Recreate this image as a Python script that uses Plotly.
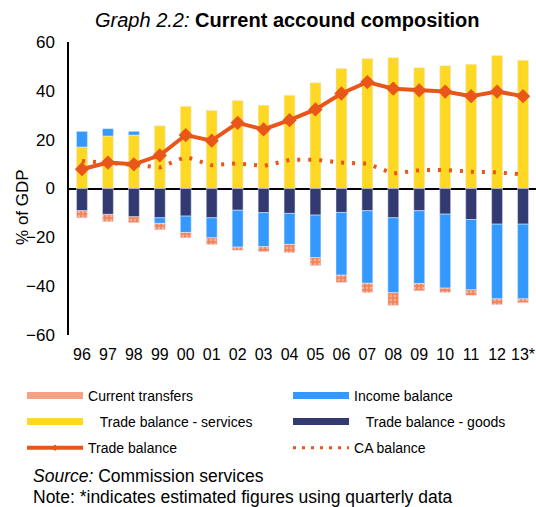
import plotly.graph_objects as go

years = ["96", "97", "98", "99", "00", "01", "02", "03", "04", "05",
         "06", "07", "08", "09", "10", "11", "12", "13*"]

services = [17.0, 21.5, 21.9, 25.7, 33.7, 32.0, 36.0, 34.1, 38.2, 43.3,
            49.1, 53.2, 53.6, 49.5, 50.3, 50.9, 54.5, 52.5]
goods = [-9.1, -10.6, -11.6, -12.0, -11.3, -12.0, -8.9, -9.9, -10.2, -10.9,
         -9.8, -9.1, -12.0, -9.1, -10.5, -12.7, -14.6, -14.6]
income = [6.4, 3.0, 1.5, -2.3, -6.7, -8.2, -15.1, -13.9, -12.7, -17.4,
          -25.7, -29.7, -30.7, -29.8, -30.3, -28.8, -30.6, -30.6]
transfers = [-2.9, -3.0, -2.4, -2.6, -2.2, -2.8, -1.3, -2.1, -3.4, -3.3,
             -3.0, -3.9, -5.2, -3.0, -1.8, -2.3, -2.4, -1.6]
trade = [7.9, 10.6, 9.9, 13.6, 21.9, 19.6, 26.9, 24.2, 28.0, 32.4,
         38.9, 43.6, 40.9, 40.2, 39.7, 37.8, 39.7, 37.8]
ca = [11.3, 10.6, 9.7, 8.6, 13.0, 9.5, 10.3, 9.2, 11.7, 11.8,
      10.6, 10.2, 6.1, 7.5, 7.6, 6.9, 6.6, 5.8]

FONT = "Liberation Sans, Arial, sans-serif"
ORANGE = "#E8561A"
YELLOW = "#FFD824"
NAVY = "#333A72"
BLUE = "#3399FF"
SALMON = "#F2845C"
SP = "\u00a0\u00a0\u00a0"

fig = go.Figure()

# bars (legend handled by the key traces below)
fig.add_trace(go.Bar(x=years, y=services, marker_color=YELLOW, width=0.42,
                     showlegend=False, name="Trade balance - services"))
fig.add_trace(go.Bar(x=years, y=goods, marker_color=NAVY, width=0.42,
                     showlegend=False, name="Trade balance - goods"))
fig.add_trace(go.Bar(x=years, y=income, marker_color=BLUE, width=0.42,
                     showlegend=False, name="Income balance"))
fig.add_trace(go.Bar(x=years, y=transfers, width=0.42, showlegend=False,
                     name="Current transfers",
                     marker=dict(color=SALMON,
                                 pattern=dict(shape=".", fgcolor="#FCE0D4",
                                              size=4, solidity=0.3))))
fig.add_trace(go.Scatter(x=years, y=trade, mode="lines+markers", showlegend=False,
                         name="Trade balance",
                         line=dict(color=ORANGE, width=4),
                         marker=dict(symbol="diamond", size=11, color=ORANGE)))
fig.add_trace(go.Scatter(x=years, y=ca, mode="lines", showlegend=False,
                         name="CA balance",
                         line=dict(color=ORANGE, width=4, dash="3px,8px")))

# legend keys: wide rectangles like the original, one small legend per slot
keys = [
    ("Current transfers", dict(color="#F4A283", width=7), "lines", 0, 0),
    ("Income balance", dict(color=BLUE, width=7), "lines", 1, 0),
    (SP + "Trade balance - services", dict(color=YELLOW, width=7), "lines", 0, 1),
    (SP + "Trade balance - goods", dict(color=NAVY, width=7), "lines", 1, 1),
    ("Trade balance", dict(color=ORANGE, width=4), "lines+markers", 0, 2),
    ("CA balance", dict(color=ORANGE, width=3, dash="3px,6px"), "lines", 1, 2),
]
col_x = [-0.1006, 0.469]
row_y = [-0.208, -0.297, -0.386]
legends = {}
for i, (name, line, mode, col, row) in enumerate(keys):
    lid = "legend" if i == 0 else "legend%d" % (i + 1)
    fig.add_trace(go.Scatter(x=[None], y=[None], name=name, mode=mode, line=line,
                             marker=dict(symbol="diamond", size=5, color=ORANGE),
                             legend=lid))
    legends[lid] = dict(orientation="h", x=col_x[col], y=row_y[row],
                        xanchor="left", yanchor="middle", itemwidth=56,
                        font=dict(size=14), bgcolor="rgba(0,0,0,0)")

fig.update_layout(
    width=536, height=507,
    barmode="relative",
    plot_bgcolor="white",
    paper_bgcolor="white",
    font=dict(family=FONT, size=16, color="black"),
    margin=dict(l=69, r=0, t=42, b=172, autoexpand=False),
    title=dict(text="<i>Graph 2.2:</i> <b>Current accound composition</b>",
               x=0.536, xanchor="center", y=0.961, yanchor="middle",
               font=dict(size=20)),
    showlegend=True,
    **legends,
)

fig.update_yaxes(range=[-60, 60], dtick=20, showgrid=False, zeroline=True,
                 zerolinecolor="black", zerolinewidth=1.5, showline=True,
                 linecolor="black", linewidth=1.5, ticks="", automargin=False,
                 ticklabelstandoff=9, tickfont=dict(size=17))
fig.update_xaxes(showgrid=False, showline=False, ticks="", type="category",
                 range=[-0.5, 17.5], automargin=False, ticklabelstandoff=8)

fig.add_annotation(text="% of GDP", textangle=-90, xref="paper", yref="paper",
                   x=-0.0985, y=0.437, xanchor="center", yanchor="middle",
                   showarrow=False, font=dict(size=17))
fig.add_annotation(text="<i>Source:</i> Commission services", xref="paper", yref="paper",
                   x=-0.0814, y=-0.481, xanchor="left", yanchor="middle",
                   showarrow=False, font=dict(size=17.5))
fig.add_annotation(text="Note: *indicates estimated figures using quarterly data",
                   xref="paper", yref="paper", x=-0.0814, y=-0.553,
                   xanchor="left", yanchor="middle", showarrow=False,
                   font=dict(size=17.5))

# drop the default page margin so the chart sits at the window's corner
fig.write_html("out.html", config={"displayModeBar": False},
               post_script="document.body.style.margin='0';")
